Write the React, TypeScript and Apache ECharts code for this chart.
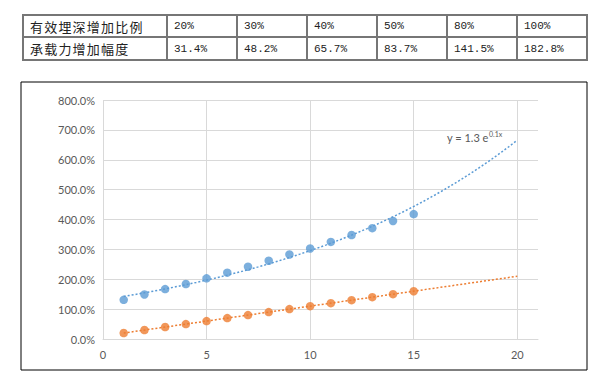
import React, { useEffect, useRef } from "react";
import * as echarts from "echarts";

// ---- table data ----
const tableRowHead1 = "有效埋深增加比例";
const tableRowHead2 = "承载力增加幅度";
const depthRatios = ["20%", "30%", "40%", "50%", "80%", "100%"];
const capacityGains = ["31.4%", "48.2%", "65.7%", "83.7%", "141.5%", "182.8%"];

// ---- chart data (percent) ----
const xValues = [1, 2, 3, 4, 5, 6, 7, 8, 9, 10, 11, 12, 13, 14, 15];
const blueValues = [131, 149, 167, 184, 203, 222, 242, 262, 283, 303, 325, 348, 371, 395, 418];
const orangeValues = [20, 30, 40, 50, 60, 70, 80, 90, 100, 110, 120, 130, 140, 150, 160];
const trendEndX = 20;
const trendLabelMain = "y = 1.3 e";
const trendLabelSup = "0.1x";

const BLUE = "#5B9BD5";
const ORANGE = "#ED7D31";
const FONT = "Lato, 'Liberation Sans', sans-serif";

function linFit(xs: number[], ys: number[]) {
  const n = xs.length;
  const mx = xs.reduce((a, b) => a + b, 0) / n;
  const my = ys.reduce((a, b) => a + b, 0) / n;
  let sxy = 0, sxx = 0;
  for (let i = 0; i < n; i++) {
    sxy += (xs[i] - mx) * (ys[i] - my);
    sxx += (xs[i] - mx) * (xs[i] - mx);
  }
  const b = sxy / sxx;
  return { a: my - b * mx, b };
}

function trendX(from: number, to: number, step: number) {
  const out: number[] = [];
  for (let x = from; x <= to + 1e-9; x += step) out.push(+x.toFixed(4));
  return out;
}

export default function App() {
  const ref = useRef<HTMLDivElement>(null);

  useEffect(() => {
    if (!ref.current) return;
    const chart = echarts.init(ref.current, undefined, { renderer: "svg" });

    const expFit = linFit(xValues, blueValues.map((v) => Math.log(v)));
    const linF = linFit(xValues, orangeValues);
    const xs = trendX(xValues[0], trendEndX, 0.25);
    const blueTrend = xs.map((x) => [x, Math.exp(expFit.a + expFit.b * x)]);
    const orangeTrend = [xValues[0], trendEndX].map((x) => [x, linF.a + linF.b * x]);

    chart.setOption({
      animation: false,
      grid: { left: 103, right: 71, top: 100, bottom: 40, containLabel: false, outerBoundsMode: "none" },
      xAxis: {
        type: "value",
        min: 0,
        max: 21,
        interval: 5,
        axisLine: { show: true, lineStyle: { color: "#d9d9d9", width: 1 } },
        axisTick: { show: false },
        axisLabel: { color: "#595959", fontSize: 11, fontFamily: FONT, margin: 10, showMaxLabel: false },
        splitLine: { show: true, showMaxLine: false, lineStyle: { color: "#d9d9d9", width: 1 } },
      },
      yAxis: {
        type: "value",
        min: 0,
        max: 800,
        interval: 100,
        axisLine: { show: false },
        axisTick: { show: false },
        axisLabel: {
          color: "#595959",
          fontSize: 11,
          fontFamily: FONT,
          margin: 8,
          formatter: (v: number) => v.toFixed(1) + "%",
        },
        splitLine: { show: true, lineStyle: { color: "#d9d9d9", width: 1 } },
      },
      series: [
        {
          type: "line",
          data: blueTrend,
          showSymbol: false,
          symbol: "none",
          z: 1,
          lineStyle: { color: BLUE, width: 1.5, type: [2, 2] },
        },
        {
          type: "line",
          data: orangeTrend,
          showSymbol: false,
          symbol: "none",
          z: 1,
          lineStyle: { color: ORANGE, width: 1.5, type: [2, 2] },
        },
        {
          type: "scatter",
          data: xValues.map((x, i) => [x, blueValues[i]]),
          symbolSize: 8.5,
          z: 3,
          itemStyle: { color: BLUE },
        },
        {
          type: "scatter",
          data: xValues.map((x, i) => [x, orangeValues[i]]),
          symbolSize: 8.5,
          z: 3,
          itemStyle: { color: ORANGE },
        },
      ],
      graphic: [
        {
          type: "rect",
          shape: { x: 21, y: 82, width: 566, height: 288 },
          style: { fill: "none", stroke: "#000", lineWidth: 1 },
          silent: true,
        },
        {
          type: "text",
          x: 447,
          y: 137,
          style: {
            text: trendLabelMain,
            fill: "#595959",
            font: "11px " + FONT,
            verticalAlign: "middle",
          },
        },
        {
          type: "text",
          x: 489,
          y: 134,
          style: {
            text: trendLabelSup,
            fill: "#595959",
            font: "7px " + FONT,
            verticalAlign: "middle",
          },
        },
      ],
    });

    return () => chart.dispose();
  }, []);

  const cellBase: React.CSSProperties = {
    border: "2px solid #767676",
    padding: "0 0 0 6px",
    height: 20,
    boxSizing: "border-box",
    whiteSpace: "nowrap",
    color: "#222",
  };
  const cjk: React.CSSProperties = {
    ...cellBase,
    fontFamily: "'Noto Sans CJK SC', sans-serif",
    fontSize: 13,
    letterSpacing: 1.2,
    width: 144,
  };
  const num: React.CSSProperties = {
    ...cellBase,
    fontFamily: "'Liberation Mono', 'DejaVu Sans Mono', monospace",
    fontSize: 11,
    width: 70,
  };

  return (
    <div style={{ position: "absolute", left: 0, top: 0, width: 609, height: 379, background: "#fff" }}>
      <div ref={ref} style={{ position: "absolute", left: 0, top: 0, width: 609, height: 379 }} />
      <table
        style={{
          position: "absolute",
          left: 22,
          top: 14,
          borderCollapse: "collapse",
          tableLayout: "fixed",
          width: 563,
          background: "#fff",
        }}
      >
        <tbody>
          <tr style={{ height: 22 }}>
            <td style={cjk}>{tableRowHead1}</td>
            {depthRatios.map((d) => (
              <td key={d} style={num}>{d}</td>
            ))}
          </tr>
          <tr style={{ height: 23 }}>
            <td style={cjk}>{tableRowHead2}</td>
            {capacityGains.map((d) => (
              <td key={d} style={num}>{d}</td>
            ))}
          </tr>
        </tbody>
      </table>
    </div>
  );
}
